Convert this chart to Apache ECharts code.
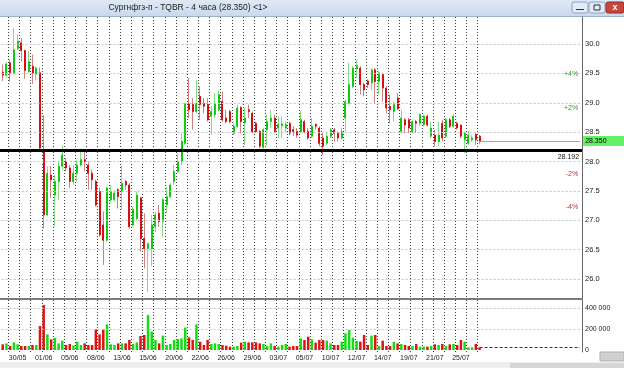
<!DOCTYPE html>
<html><head><meta charset="utf-8">
<script src="https://cdn.jsdelivr.net/npm/echarts@6/dist/echarts.min.js"></script>
<style>html,body{margin:0;padding:0;background:#fff}#c{width:624px;height:368px}</style>
</head><body><div id="c"></div>
<script>
const titleText = 'Сургнфгз-п - TQBR - 4 часа (28.350) <1>';
const tickLabels = ['25/05','30/05','01/06','05/06','08/06','13/06','15/06','20/06','22/06','26/06','29/06','03/07','05/07','10/07','12/07','14/07','19/07','21/07','25/07'];
const labelStep = 7;
const openP = [29.52,29.47,29.68,29.51,29.92,30.02,29.89,29.53,29.62,29.49,
29.51,28.20,27.09,27.77,27.43,27.66,27.92,28.00,27.89,27.66,
27.80,27.94,28.03,27.94,27.80,27.66,27.49,26.92,26.66,27.35,
27.35,27.52,27.49,27.66,27.60,26.92,27.03,27.38,26.69,26.52,
26.52,26.89,27.12,26.98,27.26,27.40,27.66,27.83,28.00,28.31,
28.98,28.97,28.85,29.11,28.99,28.97,28.77,28.80,28.88,29.02,
28.74,28.85,28.48,28.60,28.92,28.66,28.88,28.82,28.65,28.51,
28.24,28.54,28.68,28.74,28.57,28.61,28.57,28.65,28.54,28.51,
28.51,28.68,28.51,28.43,28.63,28.57,28.40,28.31,28.43,28.54,
28.48,28.40,28.74,28.99,29.28,29.58,29.59,29.31,29.37,29.34,
29.56,29.36,29.48,29.25,28.94,28.85,29.08,28.51,28.71,28.71,
28.51,28.68,28.65,28.63,28.77,28.43,28.45,28.34,28.65,28.43,
28.71,28.60,28.65,28.62,28.37,28.31,28.37,28.46,28.43];
const closeP = [29.47,29.66,29.51,29.90,30.05,29.89,29.55,29.70,29.51,29.59,
28.23,27.09,27.80,27.69,27.66,27.92,28.11,27.89,27.66,27.80,
27.94,28.03,28.00,27.80,27.69,27.26,26.75,26.66,27.55,27.49,
27.46,27.40,27.63,27.60,26.89,27.18,27.43,26.69,26.52,26.60,
26.92,27.09,26.98,27.35,27.40,27.60,27.83,28.00,28.34,28.98,
28.88,28.85,28.99,28.97,28.94,28.71,28.85,28.99,29.14,28.71,
28.68,28.68,28.60,28.91,28.68,28.74,28.85,28.51,28.51,28.26,
28.54,28.68,28.74,28.51,28.63,28.64,28.63,28.48,28.51,28.45,
28.71,28.51,28.40,28.60,28.60,28.31,28.26,28.43,28.54,28.48,
28.40,28.51,29.02,29.31,29.59,29.63,29.31,29.22,29.31,29.56,
29.36,29.51,29.25,28.91,28.88,28.97,28.90,28.74,28.62,28.57,
28.68,28.65,28.80,28.77,28.62,28.57,28.34,28.45,28.40,28.71,
28.60,28.77,28.57,28.43,28.48,28.45,28.40,28.37,28.35];
const lowP = [29.37,29.43,29.36,29.48,29.90,29.70,29.41,29.51,29.32,29.38,
28.20,26.86,27.07,27.38,26.89,27.35,27.86,27.83,27.55,27.60,
27.66,27.92,27.83,27.52,27.52,27.23,26.72,26.24,26.63,27.29,
27.32,27.20,27.18,27.52,26.86,26.89,27.00,26.47,26.18,25.78,
26.22,26.80,26.89,26.72,27.12,27.38,27.60,27.80,27.94,28.28,
28.74,28.54,28.82,28.71,28.82,28.68,28.45,28.74,28.85,28.68,
28.65,28.65,28.45,28.57,28.48,28.28,28.74,28.48,28.48,28.23,
28.22,28.28,28.57,28.48,28.40,28.40,28.50,28.45,28.43,28.40,
28.48,28.48,28.37,28.40,28.54,28.26,28.11,28.28,28.40,28.34,
28.34,28.37,28.51,28.97,29.25,29.42,29.14,29.11,29.25,29.22,
28.99,29.14,29.02,28.82,28.65,28.68,28.87,28.48,28.48,28.48,
28.48,28.48,28.60,28.60,28.60,28.40,28.26,28.26,28.34,28.40,
28.57,28.57,28.54,28.40,28.14,28.28,28.33,28.28,28.30];
const highP = [29.65,29.69,29.73,30.27,30.17,30.10,29.90,29.88,29.82,29.62,
29.60,28.79,27.92,27.92,27.77,28.00,28.28,28.06,27.94,27.94,
28.03,28.17,28.17,28.00,27.86,27.69,27.55,27.15,27.57,27.60,
27.52,27.55,27.94,27.69,27.63,27.23,27.49,27.40,27.12,26.62,
27.09,27.15,27.26,27.38,27.57,27.63,27.94,28.14,28.48,29.00,
29.42,29.08,29.39,29.28,29.08,29.08,28.94,29.17,29.22,29.19,
28.88,28.88,28.65,28.97,28.94,28.91,28.97,28.85,28.68,28.54,
28.57,28.80,28.88,28.80,28.77,28.77,28.68,28.68,28.60,28.57,
28.85,28.71,28.57,28.74,28.65,28.60,28.48,28.51,28.57,28.57,
28.51,28.57,29.05,29.68,29.62,29.73,29.62,29.34,29.40,29.59,
29.59,29.53,29.51,29.28,29.14,29.02,29.16,28.88,28.74,28.74,
28.71,28.71,28.82,28.80,28.80,28.68,28.54,28.68,28.71,28.74,
28.74,28.81,28.68,28.63,28.51,28.52,28.45,28.49,28.45];
const volume = [54000,63000,38000,73000,54000,38000,38000,38000,48000,48000,
228000,428000,149000,101000,117000,63000,89000,48000,57000,44000,
79000,48000,63000,48000,48000,197000,149000,197000,244000,54000,
48000,63000,63000,63000,95000,57000,73000,133000,143000,333000,
175000,95000,63000,137000,48000,57000,95000,105000,111000,213000,
121000,95000,244000,79000,48000,95000,57000,63000,57000,48000,
41000,32000,32000,38000,70000,79000,73000,73000,73000,63000,
57000,38000,63000,38000,32000,48000,57000,32000,38000,38000,
111000,95000,127000,101000,70000,95000,95000,89000,63000,48000,
48000,79000,159000,190000,117000,86000,79000,143000,48000,137000,
143000,38000,89000,38000,38000,79000,63000,57000,48000,38000,
38000,57000,32000,32000,32000,38000,54000,48000,57000,38000,
54000,57000,48000,95000,79000,25000,25000,57000,25000];
const priceTicks = [26,26.5,27,27.5,28,28.5,29,29.5,30];
const volumeTicks = [0,200000,400000];
const supportLevel = 28.192;
const lastPrice = 28.35;
const pctLevels = [4,2,-2,-4];

const LEAD = 3, N = 159;
const categories = Array.from({length:N}, (_,d)=>'s'+d);
const lastD = LEAD + openP.length - 1;
const up = i => closeP[i] >= openP[i];
const wickData = openP.map((o,i)=>[i+LEAD, o, closeP[i], lowP[i], highP[i]]);
const bodyData = openP.map((o,i)=>[i+LEAD, o, closeP[i], Math.min(o,closeP[i]), Math.max(o,closeP[i])]);
const volData = volume.map((v,i)=>[i+LEAD, v]);
const FF = '"Liberation Sans", Arial, sans-serif';
const dayLine = idx => idx >= 5 && (idx-5)%3===0 && idx <= lastD;
const GL = -10.34, GW = 592.34;

const chart = echarts.init(document.getElementById('c'), null, {renderer:'canvas'});
chart.setOption({
  animation:false,
  textStyle:{fontFamily:FF},
  grid:[{left:GL, top:17, width:GW, height:282, containLabel:false, outerBoundsMode:'none'},
        {left:GL, top:300, width:GW, height:52, containLabel:false, outerBoundsMode:'none'}],
  xAxis:[
    {gridIndex:0, type:'category', data:categories, boundaryGap:true,
     axisLine:{show:true, onZero:false, lineStyle:{color:'#7a7a7a', width:2}}, axisTick:{show:false}, axisLabel:{show:false},
     splitLine:{show:true, interval:dayLine, lineStyle:{color:'#3c3c3c', type:[1,2], width:1}}},
    {gridIndex:1, type:'category', data:categories, boundaryGap:true,
     axisLine:{show:false}, axisTick:{show:false},
     axisLabel:{show:true, showMinLabel:true, interval:(idx)=>idx%labelStep===0 && idx/labelStep < tickLabels.length,
       formatter:(v,idx)=>tickLabels[idx/labelStep] || '', fontSize:7, color:'#222', margin:3, fontFamily:FF},
     splitLine:{show:true, interval:dayLine, lineStyle:{color:'#3c3c3c', type:[1,2], width:1}}}
  ],
  yAxis:[
    {gridIndex:0, type:'value', position:'right', min:25.6596, max:30.4596, scale:true,
     splitLine:{show:false}, axisTick:{show:false},
     axisLine:{show:true, lineStyle:{color:'#666', width:1}},
     axisLabel:{customValues:priceTicks, formatter:v=>v.toFixed(1), fontSize:7.5, color:'#222', margin:3, fontFamily:FF}},
    {gridIndex:1, type:'value', position:'right', min:-19048, max:476190,
     splitLine:{show:false}, axisTick:{show:false},
     axisLine:{show:true, lineStyle:{color:'#666', width:1}},
     axisLabel:{customValues:volumeTicks, formatter:v=>v===0?'0':(v/1000)+' 000', fontSize:7, color:'#222', margin:3, fontFamily:FF}}
  ],
  series:[
    {type:'candlestick', name:'wick', xAxisIndex:0, yAxisIndex:0, data:wickData, encode:{x:0,y:[1,2,3,4]},
     barWidth:0.01, silent:true,
     itemStyle:{color:'#88da88', color0:'#d08080', borderColor:'#88da88', borderColor0:'#d08080', borderWidth:1},
     markLine:{silent:true, symbol:['none','none'], label:{show:false},
       data: priceTicks.map(v=>({yAxis:v, lineStyle:{color:'#c4c4c4', type:[2,2], width:1}}))}
    },
    {type:'candlestick', name:'body', xAxisIndex:0, yAxisIndex:0, data:bodyData, encode:{x:0,y:[1,2,3,4]},
     barWidth:1.5, silent:true, z:3,
     itemStyle:{color:'#10cc10', color0:'#d41010', borderColor:'#10cc10', borderColor0:'#d41010', borderWidth:1},
     markLine:{silent:true, symbol:['none','none'], label:{show:false},
       data:[
         {yAxis:supportLevel, lineStyle:{color:'#000', type:'solid', width:3}},
         [{coord:[lastD, lastPrice], lineStyle:{color:'#a8a8a8', type:'solid', width:1}}, {coord:[N-1, lastPrice]}]
       ]},
     markPoint:{silent:true, symbol:'circle', symbolSize:0,
       data:[
         {coord:[N-1, supportLevel], label:{show:true, formatter:supportLevel.toFixed(3), position:[-1,3], align:'right', verticalAlign:'top', fontSize:7, color:'#111', fontFamily:FF}},
         {coord:[N-1, lastPrice], label:{show:true, formatter:lastPrice.toFixed(3), position:[3,0], align:'left', verticalAlign:'middle', fontSize:7, color:'#000', backgroundColor:'#66f066', padding:[2,18,1,2], fontFamily:FF}}
       ].concat(pctLevels.map(p=>({coord:[N-1, lastPrice*(1+p/100)],
         label:{show:true, formatter:(p>0?'+':'')+p+'%', position:[-2,0], align:'right', verticalAlign:'middle', fontSize:7,
           color:p>0?'#3a963a':'#b03a3a', fontFamily:FF}})))}
    },
    {type:'bar', name:'volume', xAxisIndex:1, yAxisIndex:1, data:volData, encode:{x:0,y:1}, barWidth:2.5, silent:true,
     itemStyle:{color:p=>up(p.dataIndex)?'#14dc14':'#dc1414'},
     markLine:{silent:true, symbol:['none','none'], label:{show:false},
       data:[
         {yAxis:200000, lineStyle:{color:'#c4c4c4', type:[2,2], width:1}},
         {yAxis:400000, lineStyle:{color:'#c4c4c4', type:[2,2], width:1}},
         [{coord:[lastD, volume[volume.length-1]], lineStyle:{color:'#2a2a8a', type:[3,2], width:1}}, {coord:[N-1, volume[volume.length-1]]}]
       ]}
    }
  ],
  graphic:[
    {type:'rect', shape:{x:0,y:0,width:624,height:16}, style:{fill:new echarts.graphic.LinearGradient(0,0,0,1,[{offset:0,color:'#dfe9f6'},{offset:1,color:'#c9d9ee'}])}, silent:true},
    {type:'line', shape:{x1:0,y1:16.5,x2:624,y2:16.5}, style:{stroke:'#9fb2cc', lineWidth:1}, silent:true},
    {type:'text', x:188, y:8, style:{text:titleText, fontSize:8.5, fontFamily:FF, fill:'#1c1c1c', align:'center', verticalAlign:'middle'}, silent:true},
    {type:'rect', shape:{x:572,y:2,width:16,height:11,r:2}, style:{fill:'#e2eaf5', stroke:'#8ea3bf', lineWidth:1}, silent:true},
    {type:'line', shape:{x1:576,y1:9.5,x2:584,y2:9.5}, style:{stroke:'#333', lineWidth:1}, silent:true},
    {type:'rect', shape:{x:589,y:2,width:16,height:11,r:2}, style:{fill:'#e2eaf5', stroke:'#8ea3bf', lineWidth:1}, silent:true},
    {type:'rect', shape:{x:594,y:5,width:6,height:5}, style:{fill:'none', stroke:'#333', lineWidth:1}, silent:true},
    {type:'rect', shape:{x:606,y:2,width:18,height:11,r:2}, style:{fill:'#c8463c', stroke:'#8a2a22', lineWidth:1}, silent:true},
    {type:'text', x:615, y:7.5, style:{text:'x', fontSize:9, fontWeight:'bold', fill:'#fff', align:'center', verticalAlign:'middle'}, silent:true},
    {type:'rect', shape:{x:0,y:362,width:624,height:6}, style:{fill:'#eeeeee'}, silent:true},
    {type:'rect', shape:{x:510,y:363,width:114,height:5}, style:{fill:'#d6d6d6'}, silent:true},
    {type:'rect', shape:{x:600,y:352,width:24,height:9}, style:{fill:'#d0d0d0', stroke:'#b0b0b0', lineWidth:1}, silent:true}
  ]
});
</script></body></html>
